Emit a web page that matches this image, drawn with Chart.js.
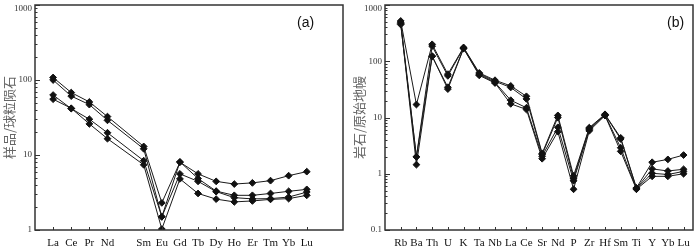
<!DOCTYPE html>
<html>
<head>
<meta charset="utf-8">
<script src="https://cdn.jsdelivr.net/npm/chart.js@4/dist/chart.umd.min.js"></script>
<style>
  body { margin: 0; background: #fff; }
  #wrap { position: relative; width: 700px; height: 249px; }
  .panel { position: absolute; top: 0; width: 350px; height: 249px; }
</style>
</head>
<body>
<div id="wrap">
  <div class="panel" style="left:0"><canvas id="chartA" width="350" height="249"></canvas></div>
  <div class="panel" style="left:350px"><canvas id="chartB" width="350" height="249"></canvas></div>
</div>
<script>
// (a) REE, chondrite normalised - the Pm slot stays empty
const reeLabels = ["La", "Ce", "Pr", "Nd", "", "Sm", "Eu", "Gd", "Tb", "Dy", "Ho", "Er", "Tm", "Yb", "Lu"];
const reeS1 = [108, 68, 51, 32.5, null, 13.0, 2.3, 8.0, 5.6, 4.45, 4.1, 4.25, 4.55, 5.3, 6.0];
const reeS2 = [100, 61, 47, 29, null, 12.1, 1.5, 8.1, 4.85, 3.3, 2.9, 2.9, 3.07, 3.28, 3.48];
const reeS3 = [63, 41.5, 30, 19.8, null, 8.4, 1.5, 5.6, 4.45, 3.25, 2.7, 2.6, 2.62, 2.75, 3.2];
const reeS4 = [55.5, 42, 26, 16.5, null, 7.4, 1.03, 4.8, 3.07, 2.58, 2.37, 2.44, 2.56, 2.62, 2.9];
const reeYTicks = [1, 10, 100, 1000];

// (b) trace elements, primitive mantle normalised
const spLabels = ["Rb", "Ba", "Th", "U", "K", "Ta", "Nb", "La", "Ce", "Sr", "Nd", "P", "Zr", "Hf", "Sm", "Ti", "Y", "Yb", "Lu"];
const spS1 = [520, 17, 200, 59, 176, 62, 46, 36.5, 23.8, 2.3, 10.9, 0.92, 6.6, 11.4, 4.35, 0.56, 1.6, 1.8, 2.15];
const spS2 = [495, 2.0, 185, 55, 172, 60, 44, 34.2, 21.4, 2.2, 10.0, 0.83, 6.4, 11.2, 4.15, 0.55, 1.22, 1.12, 1.2];
const spS3 = [470, 1.45, 122, 34.5, 170, 58, 42, 20.3, 14.9, 2.05, 6.7, 0.75, 6.1, 11.0, 2.9, 0.54, 1.02, 0.97, 1.1];
const spS4 = [450, 2.0, 124, 32, 168, 56, 41, 17.5, 13.9, 1.85, 5.6, 0.53, 5.8, 10.8, 2.5, 0.53, 0.9, 0.9, 1.0];
const spYTicks = [0.1, 1, 10, 100, 1000];

// frame, inward ticks, y labels and panel tag
const frameTicks = {
  id: "frameTicks",
  afterDraw(chart, args, opts) {
    const { ctx, chartArea: a, scales: { x, y } } = chart;
    ctx.save();
    ctx.strokeStyle = "#333";
    ctx.lineWidth = 1;

    // minor + major ticks on the log axis
    const dec = opts.yTicks;
    ctx.beginPath();
    dec.forEach((d, i) => {
      const last = i === dec.length - 1;
      for (let k = 1; k <= (last ? 1 : 9); k++) {
        const py = Math.round(y.getPixelForValue(d * k)) + 0.5;
        const len = k === 1 ? 5 : 2.5;
        ctx.moveTo(a.left, py);
        ctx.lineTo(a.left + len, py);
      }
    });
    // category ticks on the bottom axis
    opts.labels.forEach((l, i) => {
      if (!l) return;
      const px = Math.round(x.getPixelForValue(i)) + 0.5;
      ctx.moveTo(px, a.bottom);
      ctx.lineTo(px, a.bottom - 3);
    });
    ctx.stroke();

    ctx.lineWidth = 1.5;
    ctx.strokeRect(a.left, a.top, a.right - a.left, a.bottom - a.top);

    // y tick labels (kept inside the canvas at the top)
    ctx.fillStyle = "#333";
    ctx.font = "9px 'Liberation Serif', serif";
    ctx.textAlign = "right";
    ctx.textBaseline = "middle";
    dec.forEach(d => {
      const py = Math.max(y.getPixelForValue(d), a.top + 4);
      ctx.fillText(String(d), a.left - 3, py);
    });

    // x labels
    ctx.fillStyle = "#111";
    ctx.font = "11px 'Liberation Serif', serif";
    ctx.textAlign = "center";
    ctx.textBaseline = "middle";
    opts.labels.forEach((l, i) => {
      if (l) ctx.fillText(l, x.getPixelForValue(i), a.bottom + 13);
    });

    ctx.font = "14px 'Liberation Sans', Arial, sans-serif";
    ctx.textAlign = "left";
    ctx.fillText(opts.tag, a.right - opts.tagOffset, a.top + 18);
    ctx.restore();
  }
};

function makeChart(id, labels, series, yTicks, xMax, yTitle, tag, tagOffset) {
  const datasets = series.map(s => ({
    data: s.map((v, i) => ({ x: i, y: v })).filter(p => p.y != null),
    borderColor: "#1a1a1a",
    backgroundColor: "#111",
    borderWidth: 1,
    pointStyle: "rectRot",
    pointRadius: 3.4,
    pointBorderWidth: 1,
    pointBorderColor: "#111",
    tension: 0
  }));

  return new Chart(document.getElementById(id), {
    type: "line",
    data: { datasets },
    plugins: [frameTicks],
    options: {
      responsive: false,
      animation: false,
      layout: { padding: { top: 1, right: 7, left: 0, bottom: 0 } },
      plugins: {
        legend: { display: false },
        tooltip: { enabled: false },
        frameTicks: { yTicks, labels, tag, tagOffset }
      },
      scales: {
        x: {
          type: "linear",
          min: -1,
          max: xMax,
          grid: { display: false },
          border: { display: false },
          ticks: { display: false },
          afterFit: s => { s.height = 19; s.paddingLeft = 0; s.paddingRight = 0; }
        },
        y: {
          type: "logarithmic",
          min: yTicks[0],
          max: yTicks[yTicks.length - 1],
          grid: { display: false },
          border: { display: false },
          ticks: { display: false },
          afterFit: s => { s.width = 35; s.paddingTop = 0; s.paddingBottom = 0; },
          title: {
            display: true,
            text: yTitle,
            color: "#666",
            padding: { top: 1, bottom: 0 },
            font: { family: "'Noto Sans CJK SC', sans-serif", size: 13 }
          }
        }
      }
    }
  });
}

makeChart("chartA", reeLabels, [reeS1, reeS2, reeS3, reeS4], reeYTicks, 16, "样品/球粒陨石", "(a)", 46);
makeChart("chartB", spLabels, [spS1, spS2, spS3, spS4], spYTicks, 18.6, "岩石/原始地幔", "(b)", 26);
</script>
</body>
</html>
